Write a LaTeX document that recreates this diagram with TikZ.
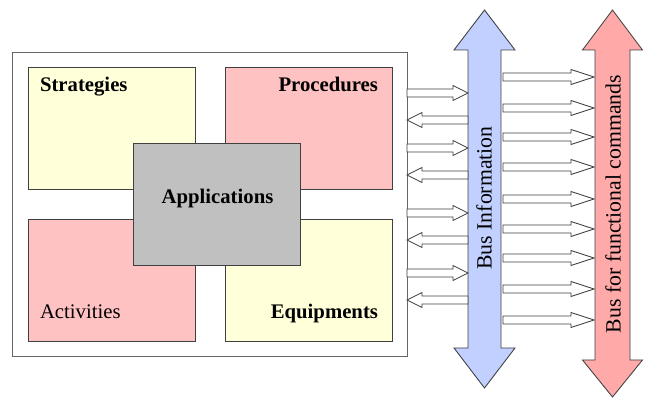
\documentclass[tikz,border=0pt]{standalone}
\usepackage{fontspec}
\setmainfont{Liberation Serif}
\newfontfamily\timesfont{Liberation Serif}
\usepackage{xcolor}
\usetikzlibrary{calc}
\definecolor{paleyellow}{HTML}{FFFFDA}
\definecolor{palepink}{HTML}{FFC2C2}
\definecolor{midgray}{HTML}{C0C0C0}
\definecolor{busblue}{HTML}{C2D0FF}
\definecolor{busred}{HTML}{FFA9A9}
\definecolor{edge}{HTML}{404040}
% hollow arrow: from x #1 to x #2 at height #3, head length #4
\newcommand{\Pipe}[4]{%
  \draw[pipe] (#1,#3-4) -- ($(#2,#3-4)-(#4,0)$) -- ($(#2,#3-7.5)-(#4,0)$) -- (#2,#3)
    -- ($(#2,#3+7.5)-(#4,0)$) -- ($(#2,#3+4)-(#4,0)$) -- (#1,#3+4) -- cycle;
}
% vertical bus: centre x, shaft half width, head half width, top tip, top base, bottom base, bottom tip
\newcommand{\Bus}[8]{%
  \draw[bus,fill=#8] (#1-#2,#5) -- (#1-#3,#5) -- (#1,#4) -- (#1+#3,#5) -- (#1+#2,#5)
    -- (#1+#2,#6) -- (#1+#3,#6) -- (#1,#7) -- (#1-#3,#6) -- (#1-#2,#6) -- cycle;
}
\tikzset{
  block/.style={draw=edge, minimum width=3.34cm, minimum height=2.44cm, inner sep=0pt},
  title/.style={font=\timesfont\fontsize{11.8}{13}\selectfont\bfseries, inner sep=0pt},
  plaintitle/.style={font=\timesfont\fontsize{11.8}{13}\selectfont, inner sep=0pt},
  pipe/.style={draw=edge, fill=white, line width=0.5pt},
  bus/.style={draw=edge, line width=0.5pt},
  buslabel/.style={font=\timesfont\fontsize{12.4}{14}\selectfont, rotate=90, inner sep=0pt}
}
\begin{document}
\begin{tikzpicture}[x=0.02cm, y=-0.02cm]
  \useasboundingbox (0,0) rectangle (646,398);

  % outer frame and the four quarters
  \node[draw=edge!80, minimum width=7.9cm, minimum height=6.08cm, inner sep=0pt] (frame) at (209.5,204) {};
  \node[block, fill=paleyellow] (strat) at (111.5,128) {};
  \node[block, fill=palepink]   (proc)  at (308.5,128) {};
  \node[block, fill=palepink]   (activ) at (111.5,280) {};
  \node[block, fill=paleyellow] (equip) at (308.5,280) {};
  \node[block, fill=midgray]    (appl)  at (216.5,204) {};

  \node[title, anchor=base west] at ($(strat.north west)+(12,25)$) {Strategies};
  \node[title, anchor=base east] at ($(proc.north east)+(-14,25)$) {Procedures};
  \node[plaintitle, anchor=base west] at ($(activ.south west)+(12,-23)$) {Activities};
  \node[title, anchor=base east] at ($(equip.south east)+(-14,-23)$) {Equipments};
  \node[title, anchor=base] at ($(appl.center)+(1,0)$) {Applications};

  % the two buses
  \Bus{484.5}{16.5}{30.5}{10}{50}{348}{388}{busblue}
  \Bus{612.5}{17.5}{30}{10}{50}{360}{397}{busred}
  \node[buslabel] (infobus) at (484,198) {Bus Information};
  \node[buslabel] (cmdbus) at (613,204) {Bus for functional commands};

  % exchanges with the information bus
  \foreach \y in {93,148,213,273} {
    \Pipe{407}{468}{\y}{15}
  }
  \foreach \y in {120,175,240,300} {
    \Pipe{468}{407}{\y}{-15}
  }

  % commands
  \foreach \y in {77,108,137,167,199,229,258,289,320} {
    \Pipe{503}{594}{\y}{23}
  }
\end{tikzpicture}
\end{document}
